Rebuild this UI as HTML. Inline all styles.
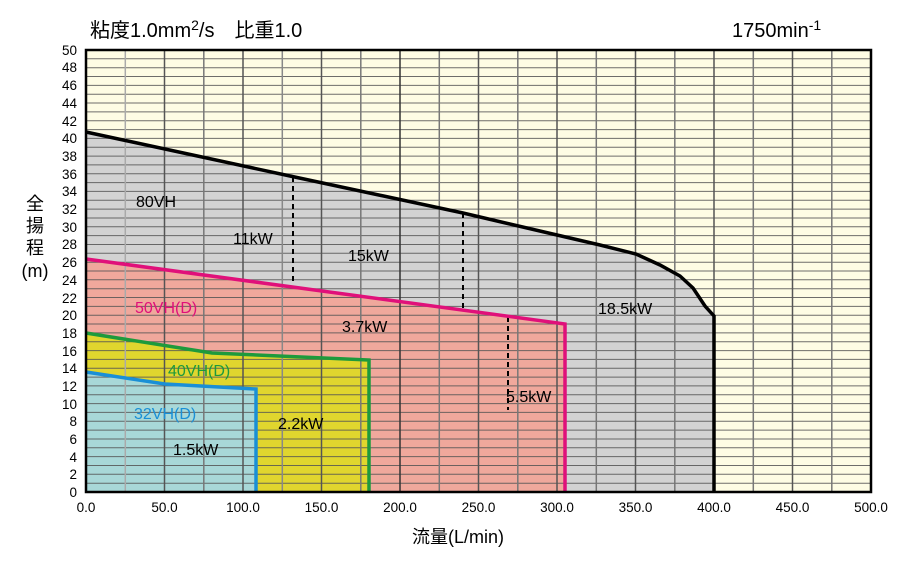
<!DOCTYPE html>
<html><head><meta charset="utf-8"><style>
body{margin:0;background:#fff;width:900px;height:570px;overflow:hidden}
text{font-family:"Liberation Sans","Noto Sans CJK JP",sans-serif}
</style></head><body>
<svg width="900" height="570" viewBox="0 0 900 570" xmlns="http://www.w3.org/2000/svg">
<rect x="86" y="50" width="785" height="442" fill="#fefce4"/>
<path d="M86,132 L290,176 L463,213 L557,235 L600,245 L636,254 L660,265 L680,276 L693,288 L705,306 L714,316 L714,492 L86,492Z" fill="#d3d3d3"/>
<path d="M86,259 L565,324 L565,492 L86,492Z" fill="#f0a89c"/>
<path d="M86,333 L212,353 L369,360 L369,492 L86,492Z" fill="#e0d62e"/>
<path d="M86,372 L165,384 L256,389 L256,492 L86,492Z" fill="#a8d8d8"/>
<g stroke="#555" stroke-width="1" opacity="0.85">
<line x1="86" x2="871" y1="483.2" y2="483.2"/><line x1="86" x2="871" y1="474.3" y2="474.3"/><line x1="86" x2="871" y1="465.5" y2="465.5"/><line x1="86" x2="871" y1="456.6" y2="456.6"/><line x1="86" x2="871" y1="447.8" y2="447.8"/>
<line x1="86" x2="871" y1="439" y2="439"/><line x1="86" x2="871" y1="430.1" y2="430.1"/><line x1="86" x2="871" y1="421.3" y2="421.3"/><line x1="86" x2="871" y1="412.4" y2="412.4"/><line x1="86" x2="871" y1="403.6" y2="403.6"/>
<line x1="86" x2="871" y1="394.8" y2="394.8"/><line x1="86" x2="871" y1="385.9" y2="385.9"/><line x1="86" x2="871" y1="377.1" y2="377.1"/><line x1="86" x2="871" y1="368.2" y2="368.2"/><line x1="86" x2="871" y1="359.4" y2="359.4"/>
<line x1="86" x2="871" y1="350.6" y2="350.6"/><line x1="86" x2="871" y1="341.7" y2="341.7"/><line x1="86" x2="871" y1="332.9" y2="332.9"/><line x1="86" x2="871" y1="324" y2="324"/><line x1="86" x2="871" y1="315.2" y2="315.2"/>
<line x1="86" x2="871" y1="306.4" y2="306.4"/><line x1="86" x2="871" y1="297.5" y2="297.5"/><line x1="86" x2="871" y1="288.7" y2="288.7"/><line x1="86" x2="871" y1="279.8" y2="279.8"/><line x1="86" x2="871" y1="271" y2="271"/>
<line x1="86" x2="871" y1="262.2" y2="262.2"/><line x1="86" x2="871" y1="253.3" y2="253.3"/><line x1="86" x2="871" y1="244.5" y2="244.5"/><line x1="86" x2="871" y1="235.6" y2="235.6"/><line x1="86" x2="871" y1="226.8" y2="226.8"/>
<line x1="86" x2="871" y1="218" y2="218"/><line x1="86" x2="871" y1="209.1" y2="209.1"/><line x1="86" x2="871" y1="200.3" y2="200.3"/><line x1="86" x2="871" y1="191.4" y2="191.4"/><line x1="86" x2="871" y1="182.6" y2="182.6"/>
<line x1="86" x2="871" y1="173.8" y2="173.8"/><line x1="86" x2="871" y1="164.9" y2="164.9"/><line x1="86" x2="871" y1="156.1" y2="156.1"/><line x1="86" x2="871" y1="147.2" y2="147.2"/><line x1="86" x2="871" y1="138.4" y2="138.4"/>
<line x1="86" x2="871" y1="129.6" y2="129.6"/><line x1="86" x2="871" y1="120.7" y2="120.7"/><line x1="86" x2="871" y1="111.9" y2="111.9"/><line x1="86" x2="871" y1="103" y2="103"/><line x1="86" x2="871" y1="94.2" y2="94.2"/>
<line x1="86" x2="871" y1="85.4" y2="85.4"/><line x1="86" x2="871" y1="76.5" y2="76.5"/><line x1="86" x2="871" y1="67.7" y2="67.7"/><line x1="86" x2="871" y1="58.8" y2="58.8"/>
</g>
<g stroke-width="1.5">
<line y1="50" y2="492" x1="125.3" x2="125.3" stroke="#aaa"/><line y1="50" y2="492" x1="164.5" x2="164.5" stroke="#555"/>
<line y1="50" y2="492" x1="203.8" x2="203.8" stroke="#777"/><line y1="50" y2="492" x1="243" x2="243" stroke="#555"/>
<line y1="50" y2="492" x1="282.3" x2="282.3" stroke="#888"/><line y1="50" y2="492" x1="321.5" x2="321.5" stroke="#555"/>
<line y1="50" y2="492" x1="360.8" x2="360.8" stroke="#777"/><line y1="50" y2="492" x1="400" x2="400" stroke="#333"/>
<line y1="50" y2="492" x1="439.3" x2="439.3" stroke="#777"/><line y1="50" y2="492" x1="478.5" x2="478.5" stroke="#555"/>
<line y1="50" y2="492" x1="517.8" x2="517.8" stroke="#777"/><line y1="50" y2="492" x1="557" x2="557" stroke="#555"/>
<line y1="50" y2="492" x1="596.3" x2="596.3" stroke="#777"/><line y1="50" y2="492" x1="635.5" x2="635.5" stroke="#555"/>
<line y1="50" y2="492" x1="674.8" x2="674.8" stroke="#777"/><line y1="50" y2="492" x1="714" x2="714" stroke="#555"/>
<line y1="50" y2="492" x1="753.3" x2="753.3" stroke="#777"/><line y1="50" y2="492" x1="792.5" x2="792.5" stroke="#555"/>
<line y1="50" y2="492" x1="831.8" x2="831.8" stroke="#777"/>
</g>
<g stroke="#000" stroke-width="2" stroke-dasharray="5,4" fill="none">
<line x1="293" y1="177" x2="293" y2="281"/>
<line x1="463" y1="213" x2="463" y2="312"/>
<line x1="508" y1="317" x2="508" y2="410"/>
</g>
<path d="M86,372 L165,384 L256,389 L256,492" fill="none" stroke="#1a8fd6" stroke-width="3.5"/>
<path d="M86,333 L212,353 L369,360 L369,492" fill="none" stroke="#1e9a3c" stroke-width="3.5"/>
<path d="M86,259 L565,324 L565,492" fill="none" stroke="#e0107a" stroke-width="3.5"/>
<path d="M86,132 L290,176 L463,213 L557,235 L600,245 L636,254 L660,265 L680,276 L693,288 L705,306 L714,316 L714,492" fill="none" stroke="#000" stroke-width="3.5"/>
<rect x="86" y="50" width="785" height="442" fill="none" stroke="#000" stroke-width="2.5"/>
<g font-size="13.5" text-anchor="end" fill="#000">
<text x="77" y="497">0</text><text x="77" y="479">2</text><text x="77" y="462">4</text><text x="77" y="444">6</text><text x="77" y="426">8</text>
<text x="77" y="409">10</text><text x="77" y="391">12</text><text x="77" y="373">14</text><text x="77" y="356">16</text><text x="77" y="338">18</text>
<text x="77" y="320">20</text><text x="77" y="303">22</text><text x="77" y="285">24</text><text x="77" y="267">26</text><text x="77" y="249">28</text>
<text x="77" y="232">30</text><text x="77" y="214">32</text><text x="77" y="196">34</text><text x="77" y="179">36</text><text x="77" y="161">38</text>
<text x="77" y="143">40</text><text x="77" y="126">42</text><text x="77" y="108">44</text><text x="77" y="90">46</text><text x="77" y="72">48</text><text x="77" y="55">50</text>
</g>
<g font-size="13.5" text-anchor="middle" fill="#000">
<text x="86" y="512">0.0</text><text x="164.5" y="512">50.0</text><text x="243" y="512">100.0</text><text x="321.5" y="512">150.0</text><text x="400" y="512">200.0</text>
<text x="478.5" y="512">250.0</text><text x="557" y="512">300.0</text><text x="635.5" y="512">350.0</text><text x="714" y="512">400.0</text><text x="792.5" y="512">450.0</text><text x="871" y="512">500.0</text>
</g>
<text x="458" y="543" font-size="18" text-anchor="middle">流量(L/min)</text>
<g font-size="18" text-anchor="middle"><text x="35" y="210">全</text><text x="35" y="232">揚</text><text x="35" y="254">程</text><text x="35" y="277">(m)</text></g>
<text x="90" y="37" font-size="20">粘度1.0mm<tspan font-size="14" dy="-7">2</tspan><tspan dy="7">/s　比重1.0</tspan></text>
<text x="732" y="37" font-size="20">1750min<tspan font-size="14" dy="-7">-1</tspan></text>
<g font-size="16">
<text x="136" y="207">80VH</text>
<text x="233" y="244">11kW</text>
<text x="348" y="261">15kW</text>
<text x="598" y="314">18.5kW</text>
<text x="342" y="332">3.7kW</text>
<text x="135" y="313" fill="#e0107a">50VH(D)</text>
<text x="168" y="376" fill="#1e9a3c">40VH(D)</text>
<text x="134" y="419" fill="#1a8fd6">32VH(D)</text>
<text x="506" y="402">5.5kW</text>
<text x="278" y="429">2.2kW</text>
<text x="173" y="455">1.5kW</text>
</g>
</svg>
</body></html>
